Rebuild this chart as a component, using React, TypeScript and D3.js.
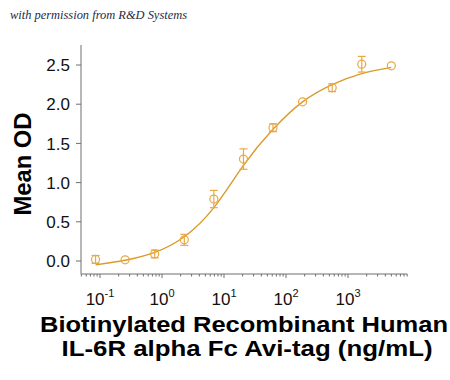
import React from "react";
import * as d3 from "d3";

const concentrations = [0.0847, 0.254, 0.762, 2.29, 6.86, 20.6, 61.7, 185, 556, 1667, 5000];
const meanOD = [0.02, 0.015, 0.09, 0.27, 0.79, 1.3, 1.7, 2.03, 2.21, 2.51, 2.49];
const errorOD = [0.05, 0.0, 0.05, 0.07, 0.11, 0.13, 0.05, 0.0, 0.05, 0.1, 0.0];
const fitOD = [-0.05, 0.01, 0.11, 0.31, 0.68, 1.22, 1.68, 2.03, 2.25, 2.39, 2.47];
const yTicks = [0, 0.5, 1.0, 1.5, 2.0, 2.5];
const xMajorExponents = [-1, 0, 1, 2, 3];

export default function App() {
  const W = 450, H = 380;
  const x = d3.scaleLog().domain([0.1, 1000]).range([100, 348]);
  const y = d3.scaleLinear().domain([0, 2.5]).range([261, 65]);
  const axisY = 274;
  const axisX = 81;
  const xStart = x(0.05);
  const xEnd = x(9000);

  const minor: number[] = [];
  for (let e = -2; e <= 3; e++) {
    for (let m = 1; m <= 9; m++) {
      const v = m * Math.pow(10, e);
      if (v >= 0.05 - 1e-9 && v <= 9000 + 1e-6) minor.push(v);
    }
  }

  const line = d3
    .line<number>()
    .x((_, i) => x(concentrations[i]))
    .y((d) => y(d))
    .curve(d3.curveNatural);

  const curveColor = "#DB9A2A";
  const markColor = "#E9A845";
  const axisColor = "#6E6E6E";

  return (
    <svg width={W} height={H} style={{ position: "absolute", left: 0, top: 0, background: "#fff" }}>
      <text x={10} y={19} fontFamily="'Liberation Serif', 'DejaVu Serif', serif" fontStyle="italic" fontSize={12} fill="#1d2a48" textLength={177} lengthAdjust="spacingAndGlyphs">
        with permission from R&amp;D Systems
      </text>

      {/* Y axis */}
      <line x1={axisX} x2={axisX} y1={45} y2={axisY} stroke={axisColor} strokeWidth={1} />
      {yTicks.map((t) => (
        <g key={t}>
          <line x1={axisX - 5} x2={axisX} y1={y(t)} y2={y(t)} stroke={axisColor} strokeWidth={1} />
          <text x={70} y={y(t)} dy="0.36em" textAnchor="end" fontFamily="'Liberation Sans', Arial, sans-serif" fontSize={17} fill="#111">
            {t.toFixed(1)}
          </text>
        </g>
      ))}

      {/* X axis */}
      <line x1={xStart} x2={xEnd} y1={axisY} y2={axisY} stroke={axisColor} strokeWidth={1} />
      {minor.map((v, i) => {
        const isMajor = Math.abs(Math.log10(v) - Math.round(Math.log10(v))) < 1e-9;
        return (
          <line key={i} x1={x(v)} x2={x(v)} y1={axisY} y2={axisY + (isMajor ? 4 : 2.5)} stroke={axisColor} strokeWidth={1} />
        );
      })}
      {xMajorExponents.map((e) => (
        <text key={e} x={x(Math.pow(10, e))} y={305} textAnchor="middle" fontFamily="'Liberation Sans', Arial, sans-serif" fontSize={17} fill="#111">
          10
          <tspan fontSize={11} dy={-8}>{e}</tspan>
        </text>
      ))}

      {/* Fit curve */}
      <path d={line(fitOD) || ""} fill="none" stroke={curveColor} strokeWidth={1.4} />

      {/* Error bars and markers */}
      {concentrations.map((c, i) => {
        const cx = x(c);
        const cy = y(meanOD[i]);
        const e = errorOD[i];
        const yt = y(meanOD[i] + e);
        const yb = y(meanOD[i] - e);
        return (
          <g key={i} stroke={markColor} strokeWidth={1.2} fill="none">
            {e > 0 && (
              <>
                <line x1={cx} x2={cx} y1={yt} y2={yb} />
                <line x1={cx - 4} x2={cx + 4} y1={yt} y2={yt} />
                <line x1={cx - 4} x2={cx + 4} y1={yb} y2={yb} />
              </>
            )}
            <circle cx={cx} cy={cy} r={4} />
          </g>
        );
      })}

      {/* Axis titles */}
      <text transform="translate(31,164) rotate(-90)" textAnchor="middle" fontFamily="'Liberation Sans', Arial, sans-serif" fontWeight="bold" fontSize={24} fill="#000" textLength={103} lengthAdjust="spacingAndGlyphs">
        Mean OD
      </text>
      <text x={244} y={332} textAnchor="middle" fontFamily="'Liberation Sans', Arial, sans-serif" fontWeight="bold" fontSize={22} fill="#000" textLength={408} lengthAdjust="spacingAndGlyphs">
        Biotinylated Recombinant Human
      </text>
      <text x={247} y={356} textAnchor="middle" fontFamily="'Liberation Sans', Arial, sans-serif" fontWeight="bold" fontSize={22} fill="#000" textLength={371} lengthAdjust="spacingAndGlyphs">
        IL-6R alpha Fc Avi-tag (ng/mL)
      </text>
    </svg>
  );
}
